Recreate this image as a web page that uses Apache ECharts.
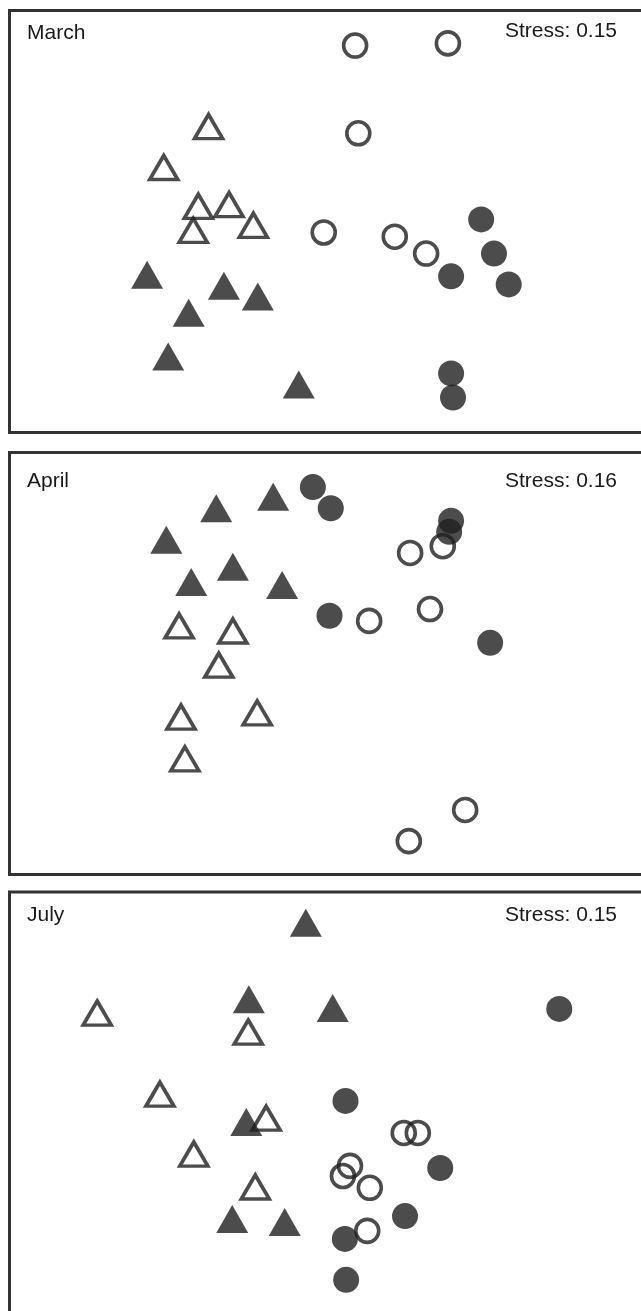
<!DOCTYPE html>
<html>
<head>
<meta charset="utf-8">
<script src="https://cdn.jsdelivr.net/npm/echarts@6/dist/echarts.min.js"></script>
<style>
html,body{margin:0;padding:0;background:#fff;overflow:hidden;}
#chart{width:641px;height:1311px;}
</style>
</head>
<body>
<div id="chart"></div>
<script>
// Panel labels
const panelNames = ['March', 'April', 'July'];
const stressLabels = ['Stress: 0.15', 'Stress: 0.16', 'Stress: 0.15'];

// NMDS ordination scores (axis units 0-100 across each panel)
// March
const marchOpenCircles = [[54.0, 91.7], [68.5, 92.2], [54.5, 70.9], [49.1, 47.4], [60.2, 46.4], [65.1, 42.4]];
const marchFilledCircles = [[73.7, 50.5], [75.7, 42.4], [69.0, 37.0], [78.0, 35.1], [69.0, 14.0], [69.3, 8.3]];
const marchOpenTriangles = [[31.1, 72.5], [24.1, 62.8], [29.5, 53.6], [34.3, 54.0], [28.7, 47.9], [38.1, 49.1]];
const marchFilledTriangles = [[21.5, 37.4], [33.5, 34.8], [38.8, 32.2], [28.0, 28.4], [24.8, 18.0], [45.2, 11.4]];
// April
const aprilOpenCircles = [[62.6, 76.2], [67.7, 77.8], [56.2, 60.1], [65.7, 62.9], [71.2, 15.3], [62.4, 7.9]];
const aprilFilledCircles = [[47.4, 91.8], [50.2, 86.8], [69.0, 83.8], [68.7, 81.2], [50.0, 61.3], [75.1, 54.9]];
const aprilOpenTriangles = [[26.5, 58.9], [34.9, 57.7], [32.7, 49.6], [38.7, 38.3], [26.8, 37.3], [27.4, 27.4]];
const aprilFilledTriangles = [[32.3, 86.8], [41.2, 89.5], [24.5, 79.3], [34.9, 72.9], [28.4, 69.3], [42.6, 68.6]];
// July
const julyOpenCircles = [[61.6, 42.9], [63.8, 42.9], [53.2, 35.1], [52.1, 32.7], [56.3, 29.9], [55.9, 19.7]];
const julyFilledCircles = [[85.9, 72.3], [52.5, 50.5], [67.3, 34.6], [61.8, 23.2], [52.4, 17.8], [52.6, 8.1]];
const julyOpenTriangles = [[13.7, 71.3], [37.3, 66.8], [23.5, 52.1], [40.1, 46.4], [28.8, 37.9], [38.4, 30.1]];
const julyFilledTriangles = [[46.3, 92.7], [37.4, 74.6], [50.5, 72.5], [37.0, 45.5], [34.8, 22.5], [43.0, 21.8]];

const panelData = [
  [marchFilledTriangles, marchOpenTriangles, marchOpenCircles, marchFilledCircles],
  [aprilFilledTriangles, aprilOpenTriangles, aprilOpenCircles, aprilFilledCircles],
  [julyFilledTriangles, julyOpenTriangles, julyOpenCircles, julyFilledCircles]
];

const INK = '#1f1f1f';
const FONT = '"Liberation Sans", Arial, Helvetica, sans-serif';
const gridTops = [10.5, 452.5, 892];
const labelTops = [23, 471, 905];
const stressTops = [21, 471, 905];

const styles = [
  {symbol: 'triangle', symbolSize: [32, 28], itemStyle: {color: INK}},
  {symbol: 'triangle', symbolSize: [28, 24], itemStyle: {color: 'rgba(0,0,0,0)', borderColor: INK, borderWidth: 3.6}},
  {symbol: 'circle', symbolSize: 23, itemStyle: {color: 'rgba(0,0,0,0)', borderColor: INK, borderWidth: 3.6}},
  {symbol: 'circle', symbolSize: 26, itemStyle: {color: INK}}
];

const grid = [], xAxis = [], yAxis = [], series = [], title = [];
panelNames.forEach((name, i) => {
  grid.push({left: 9.5, top: gridTops[i], width: 640, height: 422, show: true,
    outerBoundsMode: 'none', containLabel: false,
    borderColor: '#333333', borderWidth: 3, backgroundColor: 'transparent'});
  xAxis.push({type: 'value', gridIndex: i, min: 0, max: 100, show: false});
  yAxis.push({type: 'value', gridIndex: i, min: 0, max: 100, show: false});
  title.push({text: name, left: 27, top: labelTops[i], padding: 0,
    textStyle: {fontSize: 21, fontWeight: 'normal', color: '#1a1a1a', fontFamily: FONT}});
  title.push({text: stressLabels[i], right: 24, top: stressTops[i], padding: 0,
    textStyle: {fontSize: 21, fontWeight: 'normal', color: '#1a1a1a', fontFamily: FONT}});
  panelData[i].forEach((d, k) => {
    series.push(Object.assign({type: 'scatter', xAxisIndex: i, yAxisIndex: i, data: d,
      z: 2 + k, silent: true, emphasis: {disabled: true}}, styles[k]));
  });
});

const chart = echarts.init(document.getElementById('chart'), null, {renderer: 'canvas'});
chart.setOption({animation: false, backgroundColor: '#fff', title, grid, xAxis, yAxis, series});
</script>
</body>
</html>
